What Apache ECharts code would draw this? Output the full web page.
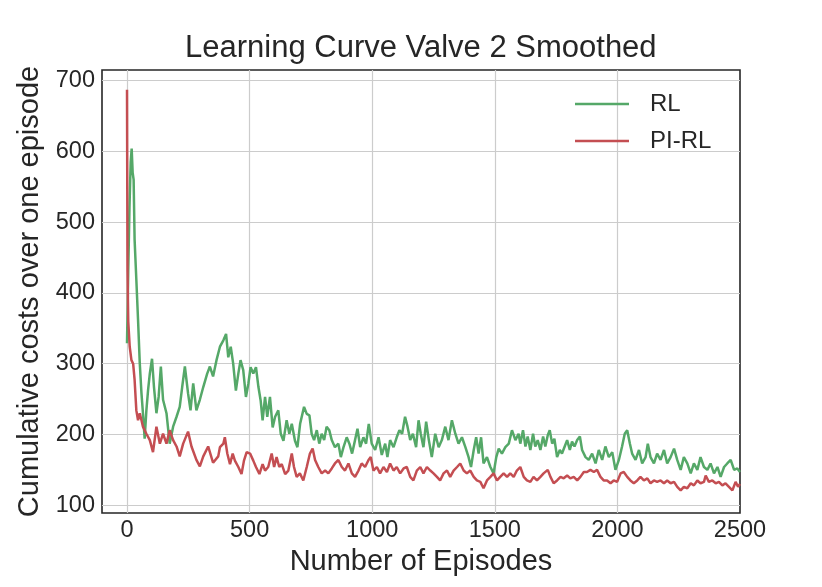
<!DOCTYPE html>
<html>
<head>
<meta charset="utf-8">
<script src="https://cdn.jsdelivr.net/npm/echarts@6/dist/echarts.min.js"></script>
<style>
  html, body { margin: 0; padding: 0; background: #fff; }
  #chart { width: 822px; height: 587px; }
</style>
</head>
<body>
<div id="chart"></div>
<script>
// RL curve
const rlEpisodes = [
  0, 5, 10, 15, 19, 23, 27, 31, 38, 45, 52, 59, 65, 72, 79, 86, 93, 102, 110, 120,
  129, 138, 147, 161, 174, 188, 202, 215, 225, 236, 249, 259, 270, 283, 297, 311, 327, 338, 351, 365,
  379, 393, 404, 413, 423, 433, 444, 454, 463, 474, 485, 495, 504, 515, 526, 536, 545, 553, 563, 572,
  583, 594, 604, 617, 627, 638, 651, 662, 672, 685, 695, 706, 722, 733, 744, 753, 763, 774, 784, 794,
  804, 814, 825, 835, 848, 862, 872, 883, 896, 907, 918, 930, 940, 951, 964, 975, 986, 998, 1012, 1026,
  1039, 1053, 1062, 1073, 1087, 1100, 1111, 1122, 1134, 1144, 1155, 1166, 1179, 1189, 1198, 1209, 1220, 1231, 1243, 1257,
  1271, 1284, 1298, 1311, 1325, 1339, 1352, 1366, 1380, 1393, 1403, 1414, 1424, 1434, 1444, 1454, 1468, 1482, 1495, 1506,
  1516, 1529, 1543, 1557, 1570, 1584, 1597, 1604, 1615, 1625, 1634, 1645, 1656, 1665, 1675, 1686, 1697, 1706, 1716, 1724,
  1734, 1743, 1754, 1765, 1774, 1785, 1795, 1806, 1815, 1825, 1836, 1847, 1856, 1870, 1883, 1897, 1911, 1924, 1938, 1951,
  1965, 1979, 1992, 2006, 2019, 2030, 2040, 2051, 2060, 2074, 2088, 2101, 2115, 2124, 2135, 2149, 2162, 2176, 2190, 2203,
  2217, 2231, 2244, 2258, 2271, 2285, 2299, 2312, 2326, 2339, 2353, 2367, 2380, 2394, 2408, 2421, 2435, 2448, 2462, 2476,
  2489, 2500
];
const rlCosts = [
  329, 430, 520, 585, 604, 570, 560, 475, 419, 362, 301, 258, 230, 194, 234, 263, 286, 307, 267, 230,
  253, 296, 249, 230, 187, 211, 225, 239, 267, 296, 258, 234, 272, 234, 249, 267, 286, 296, 282, 305,
  324, 333, 342, 309, 324, 300, 262, 286, 305, 291, 253, 272, 295, 286, 295, 267, 248, 220, 253, 225,
  253, 210, 225, 234, 201, 191, 220, 201, 215, 191, 182, 215, 239, 229, 227, 201, 192, 206, 187, 201,
  192, 211, 206, 192, 182, 187, 168, 182, 196, 187, 173, 192, 208, 182, 196, 187, 215, 187, 178, 196,
  171, 187, 168, 192, 182, 196, 206, 201, 225, 211, 192, 201, 182, 220, 201, 182, 218, 192, 168, 201,
  182, 192, 211, 192, 220, 201, 187, 196, 182, 168, 154, 178, 196, 173, 196, 159, 168, 154, 145, 168,
  180, 173, 182, 187, 206, 192, 201, 187, 206, 183, 197, 178, 201, 183, 192, 178, 197, 183, 199, 206,
  187, 194, 168, 178, 173, 183, 192, 178, 190, 183, 192, 197, 178, 168, 164, 173, 159, 178, 164, 183,
  168, 175, 150, 164, 183, 201, 206, 187, 173, 164, 178, 159, 168, 187, 168, 159, 173, 164, 178, 159,
  168, 180, 164, 150, 168, 159, 145, 159, 150, 168, 154, 150, 159, 145, 154, 140, 154, 159, 164, 150,
  152, 147
];

// PI-RL curve
const pirlEpisodes = [
  0, 1, 2, 5, 11, 18, 25, 31, 38, 45, 52, 59, 65, 79, 93, 106, 120, 134, 147, 161,
  174, 188, 202, 215, 229, 249, 263, 283, 297, 311, 331, 351, 372, 379, 393, 399, 409, 420, 431, 440,
  454, 467, 477, 488, 502, 515, 526, 540, 553, 563, 576, 590, 600, 610, 621, 631, 645, 658, 672, 681,
  692, 705, 719, 733, 746, 757, 767, 780, 794, 808, 821, 835, 848, 862, 876, 889, 903, 917, 930, 944,
  957, 971, 985, 994, 1005, 1019, 1032, 1046, 1060, 1073, 1087, 1100, 1114, 1128, 1141, 1155, 1168, 1182, 1196, 1209,
  1223, 1237, 1250, 1264, 1277, 1291, 1305, 1318, 1332, 1346, 1359, 1373, 1386, 1400, 1414, 1427, 1441, 1454, 1468, 1482,
  1495, 1509, 1522, 1536, 1550, 1563, 1577, 1590, 1604, 1618, 1631, 1645, 1658, 1672, 1686, 1699, 1716, 1727, 1740, 1754,
  1768, 1781, 1795, 1808, 1822, 1836, 1849, 1863, 1876, 1890, 1904, 1917, 1931, 1944, 1958, 1972, 1985, 1999, 2013, 2026,
  2040, 2053, 2067, 2081, 2094, 2108, 2122, 2135, 2149, 2162, 2176, 2190, 2203, 2217, 2231, 2244, 2258, 2271, 2285, 2299,
  2312, 2326, 2339, 2353, 2360, 2373, 2387, 2401, 2414, 2428, 2441, 2455, 2469, 2482, 2492, 2500
];
const pirlCosts = [
  687, 560, 430, 360, 324, 305, 300, 277, 234, 220, 230, 220, 211, 201, 192, 175, 211, 187, 201, 187,
  206, 192, 183, 169, 187, 204, 183, 164, 155, 169, 183, 160, 169, 182, 187, 196, 173, 158, 173, 163,
  154, 144, 163, 175, 173, 163, 154, 144, 158, 149, 154, 173, 154, 168, 154, 158, 144, 149, 173, 154,
  140, 145, 135, 154, 173, 180, 164, 154, 145, 149, 145, 152, 159, 164, 154, 149, 159, 145, 140, 149,
  159, 154, 164, 168, 149, 154, 145, 154, 147, 159, 149, 154, 145, 152, 154, 140, 135, 149, 154, 145,
  154, 149, 145, 140, 135, 145, 149, 140, 149, 154, 159, 149, 145, 149, 140, 135, 133, 124, 135, 140,
  145, 135, 140, 145, 140, 145, 140, 149, 154, 140, 135, 133, 140, 135, 140, 145, 150, 140, 131, 135,
  140, 138, 142, 138, 140, 135, 140, 147, 147, 150, 147, 150, 140, 135, 135, 131, 135, 133, 145, 147,
  140, 135, 131, 135, 140, 135, 138, 131, 135, 133, 135, 131, 135, 131, 133, 126, 121, 126, 124, 131,
  128, 135, 131, 133, 142, 133, 135, 131, 133, 128, 131, 126, 121, 133, 126, 130
];

const xTickLabels = [0, 500, 1000, 1500, 2000, 2500];
const yTickLabels = [100, 200, 300, 400, 500, 600, 700];

const textColor = '#262626';
const font = 'Liberation Sans, Arial, sans-serif';

const chart = echarts.init(document.getElementById('chart'), null, { renderer: 'canvas' });

chart.setOption({
  animation: false,
  backgroundColor: '#ffffff',
  title: {
    text: 'Learning Curve Valve 2 Smoothed',
    left: 185,
    top: 33,
    padding: 0,
    textStyle: { fontFamily: font, fontSize: 31, fontWeight: 'normal', color: textColor }
  },
  legend: {
    orient: 'vertical',
    left: 575,
    top: 92,
    padding: 0,
    icon: 'rect',
    itemWidth: 54,
    itemHeight: 2.5,
    itemGap: 13,
    textStyle: { fontFamily: font, fontSize: 24, color: textColor, padding: [0, 0, 0, 16] },
    data: ['RL', 'PI-RL']
  },
  grid: {
    left: 102,
    right: 82,
    top: 70,
    bottom: 74,
    show: true,
    borderColor: '#262626',
    borderWidth: 1.6,
    containLabel: false
  },
  xAxis: {
    type: 'value',
    min: -102,
    max: 2500,
    splitNumber: 5,
    name: 'Number of Episodes',
    nameLocation: 'middle',
    nameGap: 25,
    nameTextStyle: { fontFamily: font, fontSize: 29, color: textColor },
    axisLine: { show: false },
    axisTick: { show: false },
    axisLabel: {
      fontFamily: font, fontSize: 23.5, color: textColor, margin: 6,
      formatter: v => (xTickLabels.indexOf(v) >= 0 ? String(v) : '')
    },
    splitLine: { show: true, showMinLine: false, showMaxLine: false, lineStyle: { color: '#cccccc', width: 1.2 } }
  },
  yAxis: {
    type: 'value',
    min: 89,
    max: 715,
    splitNumber: 6,
    name: 'Cumulative costs over one episode',
    nameLocation: 'middle',
    nameGap: 52,
    nameTextStyle: { fontFamily: font, fontSize: 29, color: textColor },
    axisLine: { show: false },
    axisTick: { show: false },
    axisLabel: {
      fontFamily: font, fontSize: 23.5, color: textColor, margin: 7,
      formatter: v => (yTickLabels.indexOf(v) >= 0 ? String(v) : '')
    },
    splitLine: { show: true, showMinLine: false, showMaxLine: false, lineStyle: { color: '#cccccc', width: 1.2 } }
  },
  series: [
    {
      name: 'RL',
      type: 'line',
      symbol: 'none',
      color: '#55a868',
      lineStyle: { width: 2.5, color: '#55a868' },
      data: rlEpisodes.map((e, i) => [e, rlCosts[i]]),
      z: 2
    },
    {
      name: 'PI-RL',
      type: 'line',
      symbol: 'none',
      color: '#c44e52',
      lineStyle: { width: 2.5, color: '#c44e52' },
      data: pirlEpisodes.map((e, i) => [e, pirlCosts[i]]),
      z: 3
    }
  ]
});
</script>
</body>
</html>
